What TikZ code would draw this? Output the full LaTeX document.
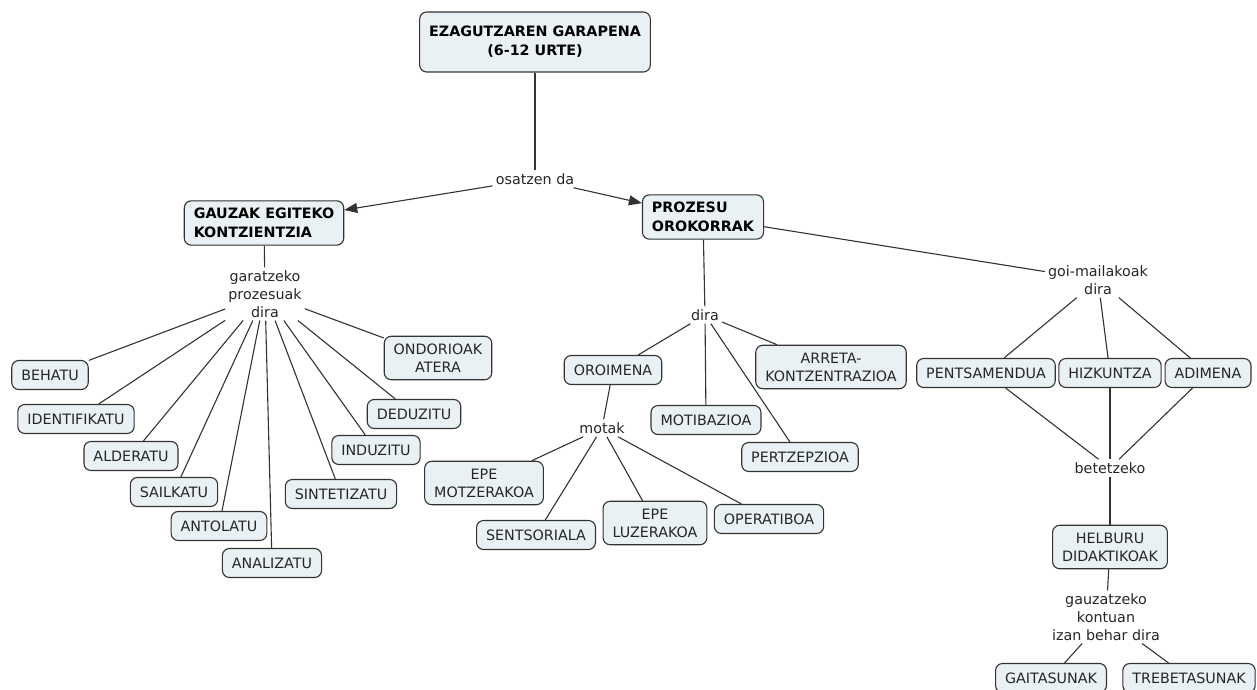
\documentclass[tikz,border=0pt]{standalone}
\usepackage{fontspec}
\setmainfont{DejaVu Sans}
\usetikzlibrary{arrows.meta}
\definecolor{boxfill}{HTML}{EAF1F4}
\definecolor{linegray}{HTML}{333333}

\begin{document}
\begin{tikzpicture}[x=1pt,y=-1pt,
                    every node/.style={font=\fontsize{14.3}{17.8}\selectfont},
                    concept/.style={draw=linegray,fill=boxfill,rounded corners=7pt,line width=1.1pt,
                                    align=center,inner xsep=9.5pt,inner ysep=7.5pt,minimum height=29pt,
                                    text=black!85},
                    topic/.style={concept,align=left,text=black,font=\fontsize{14.3}{18.5}\selectfont\bfseries},
                    linkword/.style={align=center,inner sep=3pt,text=black!85},
                    link/.style={linegray,line width=1.1pt},
                    arrowlink/.style={link,-{Triangle[length=13pt,width=10pt]}}]
  \path[use as bounding box,fill=white] (0,0) rectangle (1257,690);

  % top
  \node[concept,text=black,font=\fontsize{14.3}{19}\selectfont\bfseries,minimum width=225pt,minimum height=60pt]
       (root) at (535,42) {EZAGUTZAREN GARAPENA\\(6-12 URTE)};
  \node[linkword] (osatzen) at (535,179) {osatzen da};
  \node[topic] (gauzak) at (264,223) {GAUZAK EGITEKO\\KONTZIENTZIA};
  \node[topic] (prozesu) at (703,217) {PROZESU\\OROKORRAK};
  \draw[link] (root) -- (osatzen);
  \draw[arrowlink] (osatzen) -- (gauzak);
  \draw[arrowlink] (osatzen) -- (prozesu);

  % gauzak egiteko
  \node[linkword] (garatzeko) at (265,294) {garatzeko\\prozesuak\\dira};
  \node[concept] (behatu) at (50,375) {BEHATU};
  \node[concept] (identifikatu) at (76,419) {IDENTIFIKATU};
  \node[concept] (alderatu) at (131,456) {ALDERATU};
  \node[concept] (sailkatu) at (174,492) {SAILKATU};
  \node[concept] (antolatu) at (219,526) {ANTOLATU};
  \node[concept] (analizatu) at (272,563) {ANALIZATU};
  \node[concept] (sintetizatu) at (341,494) {SINTETIZATU};
  \node[concept] (induzitu) at (376,450) {INDUZITU};
  \node[concept] (deduzitu) at (414,414) {DEDUZITU};
  \node[concept] (ondorioak) at (438,358) {ONDORIOAK\\ATERA};
  \draw[link] (gauzak) -- (garatzeko);
  \foreach \n in {behatu,identifikatu,alderatu,sailkatu,antolatu,analizatu,
                  sintetizatu,induzitu,deduzitu,ondorioak}
    \draw[link] (garatzeko) -- (\n);

  % prozesu orokorrak
  \node[linkword] (dira) at (705,315) {dira};
  \node[concept] (oroimena) at (613,370) {OROIMENA};
  \node[concept] (arreta) at (831,367) {ARRETA-\\KONTZENTRAZIOA};
  \node[concept] (motibazioa) at (706,420) {MOTIBAZIOA};
  \node[concept] (pertzepzioa) at (800,457) {PERTZEPZIOA};
  \node[linkword] (motak) at (602,428) {motak};
  \node[concept] (epemotz) at (484,483) {EPE\\MOTZERAKOA};
  \node[concept] (sentsoriala) at (536,535) {SENTSORIALA};
  \node[concept] (epeluze) at (655,523) {EPE\\LUZERAKOA};
  \node[concept] (operatiboa) at (769,519) {OPERATIBOA};
  \draw[link] (prozesu) -- (dira);
  \foreach \n in {oroimena,motibazioa,pertzepzioa,arreta}
    \draw[link] (dira) -- (\n);
  \draw[link] (oroimena) -- (motak);
  \foreach \n in {epemotz,sentsoriala,epeluze,operatiboa}
    \draw[link] (motak) -- (\n);

  % goi-mailakoak
  \node[linkword] (goi) at (1098,280) {goi-mailakoak\\dira};
  \node[concept] (pentsamendua) at (986,373) {PENTSAMENDUA};
  \node[concept] (hizkuntza) at (1110,373) {HIZKUNTZA};
  \node[concept] (adimena) at (1208,373) {ADIMENA};
  \node[linkword] (betetzeko) at (1110,468) {betetzeko};
  \node[concept] (helburu) at (1110,547) {HELBURU\\DIDAKTIKOAK};
  \node[linkword] (gauzatzeko) at (1106,617) {gauzatzeko\\kontuan\\izan behar dira};
  \node[concept] (gaitasunak) at (1051,678) {GAITASUNAK};
  \node[concept] (trebetasunak) at (1189,678) {TREBETASUNAK};
  \draw[link] (prozesu) -- (goi);
  \foreach \n in {pentsamendua,hizkuntza,adimena} {
    \draw[link] (goi) -- (\n);
    \draw[link] (\n) -- (betetzeko);
  }
  \draw[link] (betetzeko) -- (helburu);
  \draw[link] (helburu) -- (gauzatzeko);
  \draw[link] (gauzatzeko) -- (gaitasunak);
  \draw[link] (gauzatzeko) -- (trebetasunak);
\end{tikzpicture}
\end{document}
